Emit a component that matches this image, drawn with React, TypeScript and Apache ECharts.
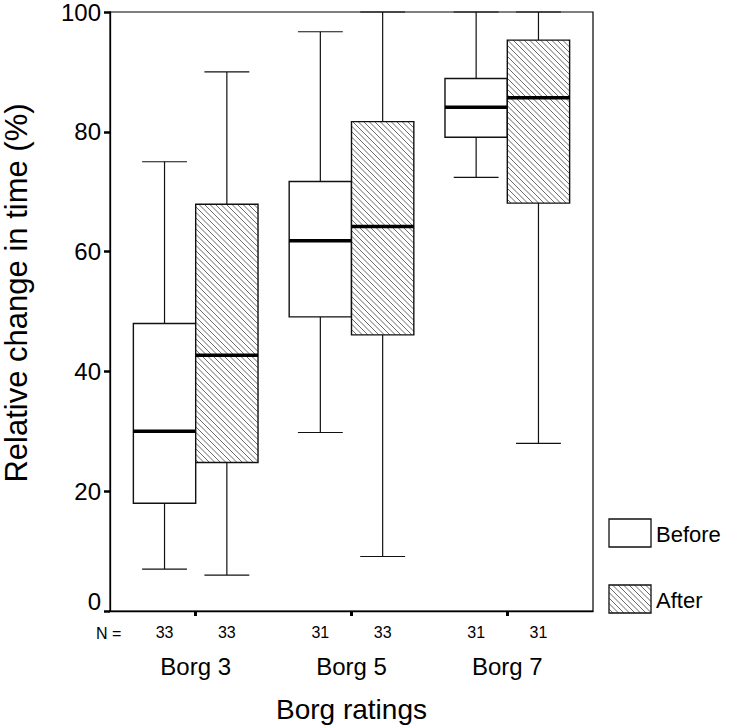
import React, { useEffect, useRef } from "react";
import * as echarts from "echarts";

const categories = ["Borg 3", "Borg 5", "Borg 7"];
// category positions on the (hidden-scale) x axis
const categoryX = [20, 40, 60];
// each row: [low whisker, Q1, median, Q3, high whisker]
const beforeStats = [
  [7, 18, 30, 48, 75],
  [29.8, 49.1, 61.8, 71.7, 96.7],
  [72.4, 79.1, 84.1, 88.9, 100],
];
const afterStats = [
  [6, 24.8, 42.7, 67.9, 90],
  [9.1, 46.1, 64.2, 81.7, 100],
  [28, 68.1, 85.7, 95.3, 100],
];
const beforeN = [33, 31, 31];
const afterN = [33, 33, 31];
const seriesNames = ["Before", "After"];

const FONT = "'Liberation Sans', Arial, Helvetica, sans-serif";
const BOX_W = 8;
const HATCH_STEP = 5.5;

function hatchLines(x0: number, y0: number, x1: number, y1: number, step: number) {
  const out: any[] = [];
  const start = Math.ceil((y0 - x1) / step) * step;
  for (let c = start; c <= y1 - x0; c += step) {
    const xa = Math.max(x0, y0 - c);
    const xb = Math.min(x1, y1 - c);
    if (xb - xa > 0.3) {
      out.push({
        type: "line",
        shape: { x1: xa, y1: xa + c, x2: xb, y2: xb + c },
        style: { stroke: "#444", lineWidth: 0.8 },
        silent: true,
      });
    }
  }
  return out;
}

function makeRender(offset: number, hatched: boolean) {
  return (params: any, api: any) => {
    const xi = api.value(0);
    const cx = xi + offset;
    const low = api.coord([cx, api.value(1)]);
    const px = low[0];
    const pLow = low[1];
    const pQ1 = api.coord([cx, api.value(2)])[1];
    const pMed = api.coord([cx, api.value(3)])[1];
    const pQ3 = api.coord([cx, api.value(4)])[1];
    const pHigh = api.coord([cx, api.value(5)])[1];
    const n = api.value(6);
    const pZero = api.coord([cx, 0])[1];
    const w = api.size([BOX_W, 0])[0];
    const cap = w * 0.72;
    const left = px - w / 2;
    const right = px + w / 2;
    const lineStyle = { stroke: "#111", lineWidth: 1.2 };
    const children: any[] = [
      { type: "line", shape: { x1: px, y1: pHigh, x2: px, y2: pQ3 }, style: lineStyle },
      { type: "line", shape: { x1: px, y1: pQ1, x2: px, y2: pLow }, style: lineStyle },
      { type: "line", shape: { x1: px - cap / 2, y1: pHigh, x2: px + cap / 2, y2: pHigh }, style: lineStyle },
      { type: "line", shape: { x1: px - cap / 2, y1: pLow, x2: px + cap / 2, y2: pLow }, style: lineStyle },
      { type: "rect", shape: { x: left, y: pQ3, width: w, height: pQ1 - pQ3 }, style: { fill: "#fff", stroke: "none" } },
    ];
    if (hatched) children.push(...hatchLines(left, pQ3, right, pQ1, HATCH_STEP));
    children.push(
      { type: "rect", shape: { x: left, y: pQ3, width: w, height: pQ1 - pQ3 }, style: { fill: "none", stroke: "#111", lineWidth: 1.4 } },
      { type: "line", shape: { x1: left, y1: pMed, x2: right, y2: pMed }, style: { stroke: "#000", lineWidth: 3.5 } },
      {
        type: "text",
        style: { text: String(n), x: px, y: pZero + 21, align: "center", verticalAlign: "middle", fontSize: 16, fontFamily: FONT, fill: "#000" },
      }
    );
    return { type: "group", children };
  };
}

export default function App() {
  const ref = useRef<HTMLDivElement>(null);
  useEffect(() => {
    if (!ref.current) return;
    const chart = echarts.init(ref.current, null, { renderer: "svg" });
    const beforeData = beforeStats.map((s, i) => [categoryX[i], ...s, beforeN[i]]);
    const afterData = afterStats.map((s, i) => [categoryX[i], ...s, afterN[i]]);
    const legendHatch = hatchLines(609, 585, 651, 613, HATCH_STEP);
    chart.setOption({
      animation: false,
      backgroundColor: "#fff",
      grid: { left: 110, right: 137, top: 10, bottom: 115, show: true, borderColor: "#000", borderWidth: 1.2, backgroundColor: "transparent" },
      xAxis: {
        type: "value",
        min: 9,
        max: 71,
        splitLine: { show: false },
        axisLine: { show: true, onZero: false, lineStyle: { color: "#000", width: 1.3 } },
        axisTick: { show: true, customValues: categoryX, length: 5, lineStyle: { color: "#000", width: 3 } },
        axisLabel: {
          show: true,
          customValues: categoryX,
          formatter: (v: number) => categories[categoryX.indexOf(Math.round(v))] || "",
          margin: 43,
          fontSize: 24,
          color: "#000",
          fontFamily: FONT,
        },
        name: "Borg ratings",
        nameLocation: "middle",
        nameGap: 84,
        nameTextStyle: { fontSize: 28, color: "#000", fontFamily: FONT },
      },
      yAxis: {
        type: "value",
        min: 0,
        max: 100,
        interval: 20,
        splitLine: { show: false },
        axisLine: { show: true, onZero: false, lineStyle: { color: "#000", width: 1.3 } },
        axisTick: { show: true, length: 6, lineStyle: { color: "#000", width: 2.5 } },
        axisLabel: {
          fontSize: 24,
          color: "#000",
          fontFamily: FONT,
          margin: 9,
          formatter: (v: number) => (v === 0 ? "{z|0}" : String(v)),
          rich: { z: { fontSize: 24, fontFamily: FONT, color: "#000", padding: [0, 0, 20, 0] } },
        },
      },
      series: [
        { type: "custom", name: seriesNames[0], renderItem: makeRender(-BOX_W / 2, false), data: beforeData, encode: { x: 0, y: [1, 2, 3, 4, 5] }, z: 3 },
        { type: "custom", name: seriesNames[1], renderItem: makeRender(BOX_W / 2, true), data: afterData, encode: { x: 0, y: [1, 2, 3, 4, 5] }, z: 3 },
      ],
      graphic: [
        {
          type: "text",
          x: 16,
          y: 293,
          rotation: Math.PI / 2,
          style: { text: "Relative change in time (%)", x: 0, y: 0, align: "center", verticalAlign: "middle", lineHeight: 30, fontSize: 31, fontFamily: FONT, fill: "#000" },
        },
        { type: "text", left: 96, top: 625, style: { text: "N =", fontSize: 16, fontFamily: FONT, fill: "#000" } },
        { type: "rect", shape: { x: 609, y: 519, width: 42, height: 28 }, style: { fill: "#fff", stroke: "#111", lineWidth: 1.3 } },
        { type: "text", style: { text: seriesNames[0], x: 656, y: 534, verticalAlign: "middle", fontSize: 22, fontFamily: FONT, fill: "#000" } },
        { type: "rect", shape: { x: 609, y: 585, width: 42, height: 28 }, style: { fill: "#fff", stroke: "none" } },
        ...legendHatch,
        { type: "rect", shape: { x: 609, y: 585, width: 42, height: 28 }, style: { fill: "none", stroke: "#111", lineWidth: 1.3 } },
        { type: "text", style: { text: seriesNames[1], x: 656, y: 600, verticalAlign: "middle", fontSize: 22, fontFamily: FONT, fill: "#000" } },
      ],
    });
    return () => chart.dispose();
  }, []);
  return <div ref={ref} style={{ position: "fixed", left: 0, top: 0, width: 730, height: 728 }} />;
}
